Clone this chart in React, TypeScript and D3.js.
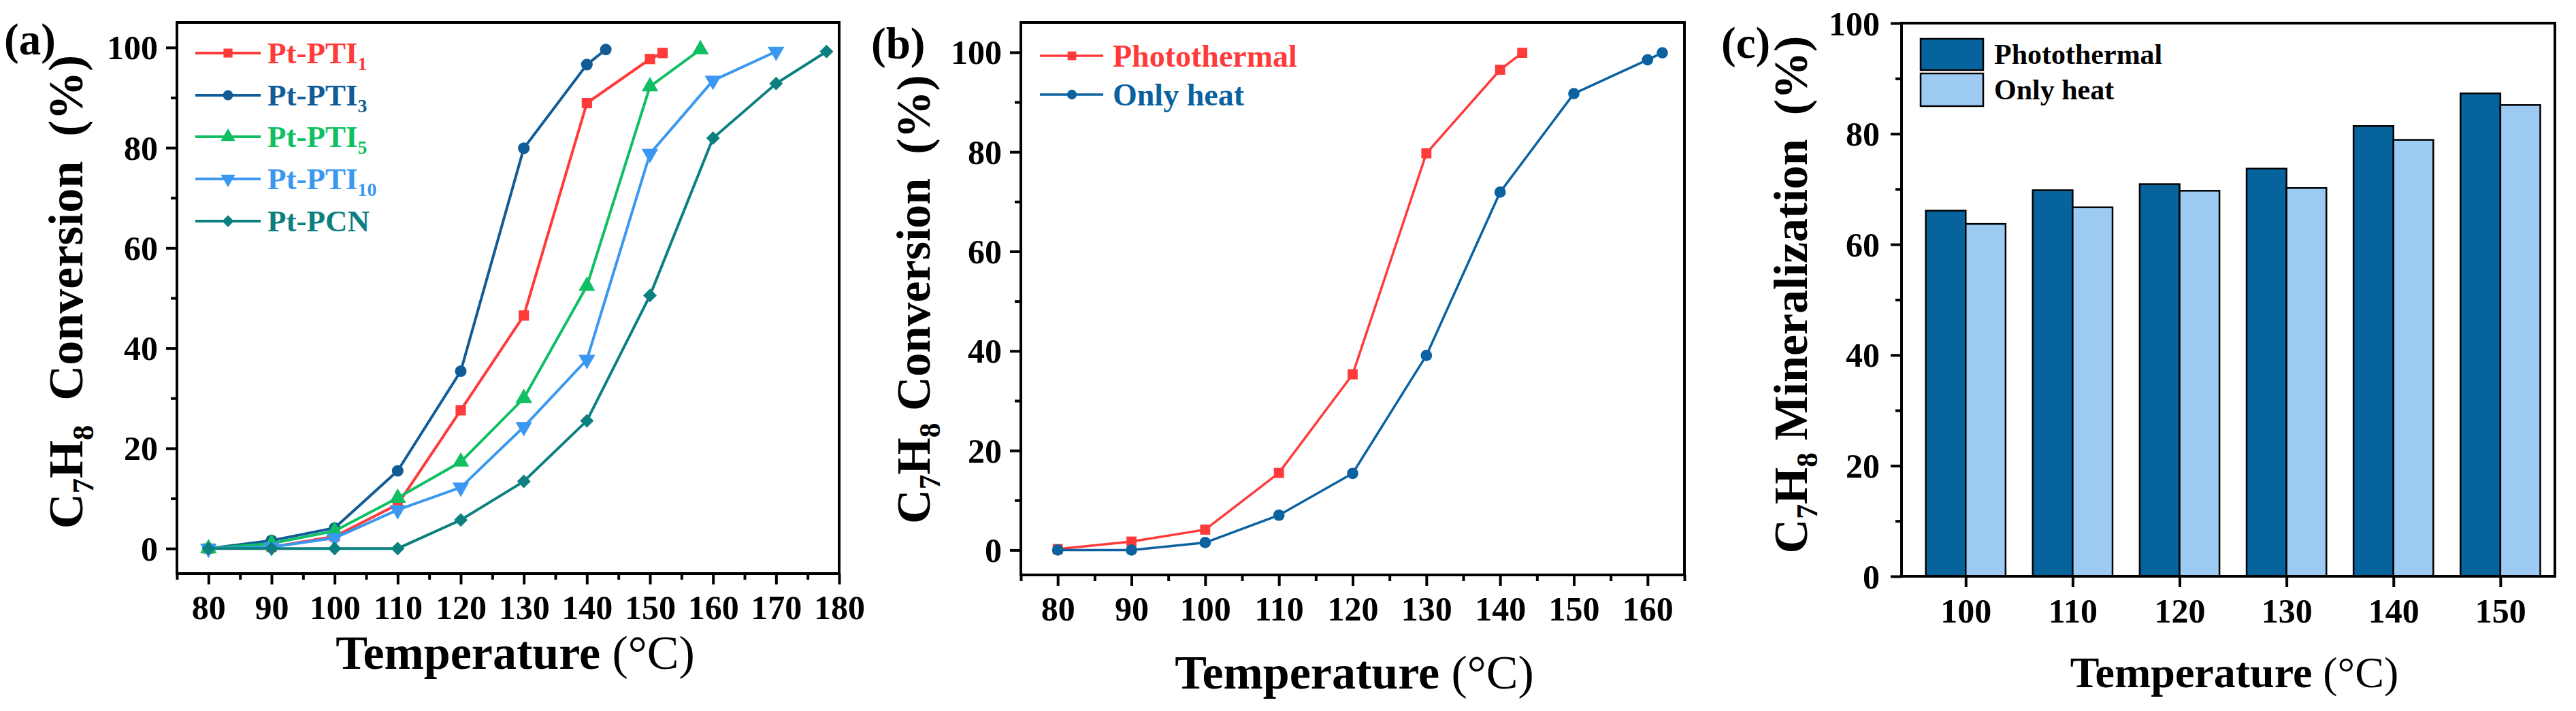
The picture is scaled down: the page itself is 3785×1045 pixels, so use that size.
import { useRef, useEffect } from "react";
import * as d3 from "d3";

// (a) conversion of the Pt catalysts
const pti1T = [80, 90, 100, 110, 120, 130, 140, 150, 152];
const pti1Conv = [0, 0.3, 2.4, 8.8, 27.6, 46.5, 88.9, 97.7, 98.9];
const pti3T = [80, 90, 100, 110, 120, 130, 140, 143];
const pti3Conv = [0, 1.6, 4.1, 15.5, 35.4, 79.9, 96.6, 99.6];
const pti5T = [80, 90, 100, 110, 120, 130, 140, 150, 158];
const pti5Conv = [0, 1.0, 3.5, 10.1, 17.3, 30.0, 52.4, 92.2, 99.6];
const pti10T = [80, 90, 100, 110, 120, 130, 140, 150, 160, 170];
const pti10Conv = [0, 0.3, 2.1, 7.7, 12.2, 24.3, 37.7, 78.8, 93.4, 99.2];
const pcnT = [80, 90, 100, 110, 120, 130, 140, 150, 160, 170, 178];
const pcnConv = [0, 0, 0, 0, 5.7, 13.4, 25.5, 50.5, 81.9, 92.8, 99.2];

// (b) photothermal vs only heat
const photoT = [80, 90, 100, 110, 120, 130, 140, 143];
const photoConv = [0.2, 1.7, 4.1, 15.5, 35.3, 79.7, 96.5, 99.9];
const heatT = [80, 90, 100, 110, 120, 130, 140, 150, 160, 162];
const heatConv = [0, 0, 1.5, 7.0, 15.4, 39.1, 71.9, 91.7, 98.5, 99.9];

// (c) mineralization
const minT = [100, 110, 120, 130, 140, 150];
const minPhoto = [66.1, 69.8, 70.9, 73.7, 81.4, 87.3];
const minHeat = [63.7, 66.7, 69.7, 70.2, 78.9, 85.2];

const yTicks = [0, 20, 40, 60, 80, 100];
const yMinor = [10, 30, 50, 70, 90];
const xTicksA = [80, 90, 100, 110, 120, 130, 140, 150, 160, 170, 180];
const xTicksB = [80, 90, 100, 110, 120, 130, 140, 150, 160];

const FONT = "'Liberation Serif', 'Times New Roman', serif";

type Part = [string, boolean];

function richText(
  sel: d3.Selection<SVGTextElement, unknown, null, undefined>,
  parts: Part[],
  size: number,
) {
  let down = false;
  parts.forEach(([t, sub]) => {
    const ts = sel.append("tspan").text(t);
    if (sub) {
      ts.attr("font-size", size * 0.62).attr("dy", down ? 0 : size * 0.22);
      down = true;
    } else {
      ts.attr("font-size", size).attr("dy", down ? -size * 0.22 : 0);
      down = false;
    }
  });
}

export default function App() {
  const svgRef = useRef<SVGSVGElement>(null);

  useEffect(() => {
    if (!svgRef.current) return;
    const svg = d3.select(svgRef.current);
    svg.selectAll("*").remove();
    svg.attr("font-family", FONT).attr("font-weight", "bold");

    function frame(
      x: d3.ScaleLinear<number, number>,
      y: d3.ScaleLinear<number, number>,
      xMajor: number[],
      xMinor: number[],
      labelY: number,
      labelGap: number,
    ) {
      const [x0, x1] = x.range();
      const [y0, y1] = y.range();
      const g = svg.append("g");

      const bottom = g
        .append("g")
        .attr("transform", `translate(0,${y0})`)
        .call(d3.axisBottom(x).tickValues(xMajor).tickSize(16).tickFormat(d3.format("d")));
      bottom.select(".domain").remove();
      bottom
        .selectAll("text")
        .attr("y", labelY)
        .attr("dy", 0)
        .attr("fill", "#000")
        .attr("font-size", 50)
        .attr("font-family", FONT);
      if (xMinor.length) {
        const bm = g
          .append("g")
          .attr("transform", `translate(0,${y0})`)
          .call(d3.axisBottom(x).tickValues(xMinor).tickSize(9).tickFormat(() => ""));
        bm.select(".domain").remove();
      }

      const left = g
        .append("g")
        .attr("transform", `translate(${x0},0)`)
        .call(d3.axisLeft(y).tickValues(yTicks).tickSize(16).tickPadding(labelGap - 16));
      left.select(".domain").remove();
      left
        .selectAll("text")
        .attr("dy", "0.34em")
        .attr("fill", "#000")
        .attr("font-size", 50)
        .attr("font-family", FONT);
      const lm = g
        .append("g")
        .attr("transform", `translate(${x0},0)`)
        .call(d3.axisLeft(y).tickValues(yMinor).tickSize(9).tickFormat(() => ""));
      lm.select(".domain").remove();

      g.selectAll(".tick line").attr("stroke", "#000").attr("stroke-width", 4);

      g.append("rect")
        .attr("x", x0)
        .attr("y", y1)
        .attr("width", x1 - x0)
        .attr("height", y0 - y1)
        .attr("fill", "none")
        .attr("stroke", "#000")
        .attr("stroke-width", 4);
    }

    function axisTitles(
      xc: number,
      xBase: number,
      xSize: number,
      yBase: number,
      yc: number,
      ySize: number,
      yParts: Part[],
      panel: string,
      px: number,
      py: number,
    ) {
      const xt = svg
        .append("text")
        .attr("x", xc)
        .attr("y", xBase)
        .attr("text-anchor", "middle")
        .attr("font-size", xSize);
      xt.append("tspan").text("Temperature ");
      xt.append("tspan").attr("font-weight", "normal").text("(°C)");

      const yt = svg
        .append("text")
        .attr("transform", `translate(${yBase},${yc}) rotate(-90)`)
        .attr("text-anchor", "middle")
        .attr("xml:space", "preserve")
        .style("white-space", "pre");
      richText(yt, yParts, ySize);

      svg
        .append("text")
        .attr("x", px)
        .attr("y", py)
        .attr("font-size", 65)
        .text(panel);
    }

    // ---------- (a) ----------
    const xa = d3.scaleLinear().domain([75, 180]).range([260, 1233]);
    const ya = d3.scaleLinear().domain([-5, 105]).range([843, 33]);
    frame(xa, ya, xTicksA, d3.range(75, 180, 10), 67, 28);

    const seriesA = [
      { name: "Pt-PTI", sub: "1", t: pti1T, v: pti1Conv, color: "#ff3a3a", sym: d3.symbolSquare, size: 230, rot: 0 },
      { name: "Pt-PTI", sub: "3", t: pti3T, v: pti3Conv, color: "#115c96", sym: d3.symbolCircle, size: 230, rot: 0 },
      { name: "Pt-PTI", sub: "5", t: pti5T, v: pti5Conv, color: "#0fbf62", sym: d3.symbolTriangle, size: 260, rot: 0 },
      { name: "Pt-PTI", sub: "10", t: pti10T, v: pti10Conv, color: "#3a98f0", sym: d3.symbolTriangle, size: 260, rot: 180 },
      { name: "Pt-PCN", sub: "", t: pcnT, v: pcnConv, color: "#0c8080", sym: d3.symbolSquare, size: 200, rot: 45 },
    ];

    const lineA = d3
      .line<[number, number]>()
      .x((d) => xa(d[0]))
      .y((d) => ya(d[1]));

    const legA = [78, 140, 201, 263, 325];
    seriesA.forEach((s, i) => {
      const pts = s.t.map((t, j) => [t, s.v[j]] as [number, number]);
      svg
        .append("path")
        .datum(pts)
        .attr("fill", "none")
        .attr("stroke", s.color)
        .attr("stroke-width", 4)
        .attr("d", lineA);
      svg
        .append("g")
        .selectAll("path")
        .data(pts)
        .join("path")
        .attr("transform", (d) => `translate(${xa(d[0])},${ya(d[1])}) rotate(${s.rot})`)
        .attr("d", d3.symbol(s.sym, s.size)())
        .attr("fill", s.color);

      const ly = legA[i];
      svg
        .append("line")
        .attr("x1", 287)
        .attr("x2", 383)
        .attr("y1", ly)
        .attr("y2", ly)
        .attr("stroke", s.color)
        .attr("stroke-width", 4);
      svg
        .append("path")
        .attr("transform", `translate(335,${ly}) rotate(${s.rot})`)
        .attr("d", d3.symbol(s.sym, s.size * 0.75)())
        .attr("fill", s.color);
      const lt = svg.append("text").attr("x", 393).attr("y", ly + 15).attr("fill", s.color);
      const parts: Part[] = [[s.name, false]];
      if (s.sub) parts.push([s.sub, true]);
      richText(lt, parts, 45);
    });

    axisTitles(
      757, 983, 70, 121, 429, 72,
      [["C", false], ["7", true], ["H", false], ["8", true], ["  Conversion  (%)", false]],
      "(a)", 6, 80,
    );

    // ---------- (b) ----------
    const xb = d3.scaleLinear().domain([75, 165]).range([1500, 2475]);
    const yb = d3.scaleLinear().domain([-5, 106]).range([845, 33]);
    frame(xb, yb, xTicksB, d3.range(75, 166, 10), 67, 28);

    const seriesB = [
      { name: "Photothermal", t: photoT, v: photoConv, color: "#ff3a3a", sym: d3.symbolSquare },
      { name: "Only heat", t: heatT, v: heatConv, color: "#0b62a0", sym: d3.symbolCircle },
    ];
    const lineB = d3
      .line<[number, number]>()
      .x((d) => xb(d[0]))
      .y((d) => yb(d[1]));
    const legB = [82, 139];
    seriesB.forEach((s, i) => {
      const pts = s.t.map((t, j) => [t, s.v[j]] as [number, number]);
      svg
        .append("path")
        .datum(pts)
        .attr("fill", "none")
        .attr("stroke", s.color)
        .attr("stroke-width", 3.5)
        .attr("d", lineB);
      svg
        .append("g")
        .selectAll("path")
        .data(pts)
        .join("path")
        .attr("transform", (d) => `translate(${xb(d[0])},${yb(d[1])})`)
        .attr("d", d3.symbol(s.sym, 220)())
        .attr("fill", s.color);

      const ly = legB[i];
      svg
        .append("line")
        .attr("x1", 1528)
        .attr("x2", 1621)
        .attr("y1", ly)
        .attr("y2", ly)
        .attr("stroke", s.color)
        .attr("stroke-width", 3.5);
      svg
        .append("path")
        .attr("transform", `translate(1575,${ly})`)
        .attr("d", d3.symbol(s.sym, 160)())
        .attr("fill", s.color);
      svg
        .append("text")
        .attr("x", 1635)
        .attr("y", ly + 16)
        .attr("fill", s.color)
        .attr("font-size", 46)
        .text(s.name);
    });

    axisTitles(
      1990, 1012, 70, 1366, 440, 70,
      [["C", false], ["7", true], ["H", false], ["8", true], [" Conversion  (%)", false]],
      "(b)", 1280, 86,
    );

    // ---------- (c) ----------
    const xc = d3.scaleLinear().domain([94, 155.1]).range([2794, 3754]);
    const yc = d3.scaleLinear().domain([0, 100]).range([847, 34]);
    const barW = xc(3.73) - xc(0);

    const barColors = ["#07639c", "#9ccaf3"];
    [minPhoto, minHeat].forEach((vals, k) => {
      svg
        .append("g")
        .selectAll("rect")
        .data(minT)
        .join("rect")
        .attr("x", (t) => xc(t) - barW + k * barW)
        .attr("y", (_, j) => yc(vals[j]))
        .attr("width", barW)
        .attr("height", (_, j) => yc(0) - yc(vals[j]))
        .attr("fill", barColors[k])
        .attr("stroke", "#000")
        .attr("stroke-width", 2.5);
    });
    frame(xc, yc, minT, [], 68, 32);

    const legC = [
      { name: "Photothermal", y: 57, h: 46 },
      { name: "Only heat", y: 108, h: 48 },
    ];
    legC.forEach((l, k) => {
      svg
        .append("rect")
        .attr("x", 2822)
        .attr("y", l.y)
        .attr("width", 92)
        .attr("height", l.h)
        .attr("fill", barColors[k])
        .attr("stroke", "#000")
        .attr("stroke-width", 2.5);
      svg
        .append("text")
        .attr("x", 2930)
        .attr("y", l.y + l.h / 2 + 14)
        .attr("font-size", 42)
        .text(l.name);
    });

    axisTitles(
      3283, 1010, 64, 2655, 433, 70,
      [["C", false], ["7", true], ["H", false], ["8", true], [" Mineralization  (%)", false]],
      "(c)", 2529, 85,
    );
  }, []);

  return (
    <svg
      ref={svgRef}
      width={3785}
      height={1045}
      style={{ position: "absolute", left: 0, top: 0, background: "#fff" }}
    />
  );
}
